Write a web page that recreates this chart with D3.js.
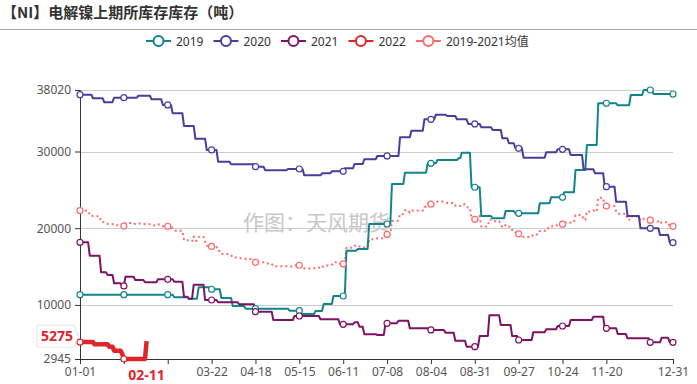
<!DOCTYPE html>
<html>
<head>
<meta charset="utf-8">
<script src="https://cdn.jsdelivr.net/npm/d3@7"></script>
<style>
  body { margin: 0; background: #fff; }
  svg { font-family: "Noto Sans", "Noto Sans CJK SC", sans-serif; }
</style>
</head>
<body>
<div id="chart"></div>
<script>
// Weekly SHFE nickel stock, [date, tonnes] - value holds until the next print
const s2019 = [
  ["01-01", 11330], ["02-28", 10990], ["03-08", 10810], ["03-14", 12290], ["03-22", 12040],
  ["03-28", 10900], ["04-04", 9860], ["04-12", 9510], ["05-09", 9240], ["05-16", 8810],
  ["05-25", 9200], ["05-30", 10110], ["06-05", 11160], ["06-13", 17070], ["06-20", 17290],
  ["06-27", 20550], ["07-11", 25770], ["07-19", 27240], ["08-02", 28460], ["08-08", 28900],
  ["08-21", 29120], ["08-23", 29850], ["08-29", 25340], ["09-04", 21590], ["09-11", 21290],
  ["09-19", 22240], ["09-25", 21940], ["10-10", 23250], ["10-17", 24030], ["10-25", 24680],
  ["11-01", 27590], ["11-08", 30850], ["11-15", 36290], ["11-27", 36030], ["12-05", 37370],
  ["12-13", 38020], ["12-19", 37500]
];
const s2020 = [
  ["01-01", 37410], ["01-09", 36940], ["01-16", 36420], ["01-22", 37020], ["02-06", 37280],
  ["02-14", 36810], ["02-21", 36070], ["02-27", 35000], ["03-05", 33330], ["03-12", 31670],
  ["03-19", 30200], ["03-26", 28680], ["04-03", 28330], ["04-18", 28020], ["04-24", 27550],
  ["05-08", 27720], ["05-18", 26900], ["05-29", 27160], ["06-04", 27420], ["06-12", 27810],
  ["06-18", 28370], ["06-24", 28990], ["07-02", 29420], ["07-16", 31860], ["07-23", 32720],
  ["07-31", 34200], ["08-07", 34800], ["08-14", 34630], ["08-20", 34200], ["08-27", 33590],
  ["09-04", 33160], ["09-11", 32810], ["09-17", 31720], ["09-21", 31070], ["09-25", 30420],
  ["09-30", 29200], ["10-14", 29900], ["10-21", 30290], ["10-29", 29550], ["11-06", 27680],
  ["11-13", 27160], ["11-19", 25410], ["11-26", 23460], ["12-03", 21590], ["12-11", 19990],
  ["12-23", 19120], ["12-29", 18110]
];
const s2021 = [
  ["01-01", 18160], ["01-07", 16420], ["01-14", 14250], ["01-18", 13900], ["01-22", 12820],
  ["01-27", 12470], ["01-29", 13680], ["02-04", 13250], ["02-10", 12950], ["02-18", 13340],
  ["02-28", 13030], ["03-05", 11070], ["03-08", 10810], ["03-11", 12640], ["03-18", 10640],
  ["03-26", 10340], ["04-08", 10080], ["04-18", 9110], ["04-29", 8030], ["05-12", 8550],
  ["05-28", 8120], ["06-09", 7470], ["06-18", 7730], ["06-21", 7160], ["06-24", 6170],
  ["07-02", 6080], ["07-07", 7600], ["07-15", 7940], ["07-22", 6950], ["08-03", 6730],
  ["08-13", 6370], ["08-19", 5330], ["08-26", 4550], ["09-03", 5940], ["09-09", 8640],
  ["09-16", 7380], ["09-23", 5940], ["09-27", 5420], ["10-06", 6430], ["10-14", 6820],
  ["10-21", 7250], ["10-29", 8030], ["11-12", 8460], ["11-19", 6950], ["11-27", 6200],
  ["12-03", 5640], ["12-17", 5120], ["12-24", 5720], ["12-29", 5120]
];
const s2022 = [
  ["01-01", 5150], ["01-10", 4860], ["01-19", 4550], ["01-22", 4030], ["01-27", 3600],
  ["01-28", 2945], ["02-11", 5275]
];

const seriesNames = ["2019", "2020", "2021", "2022", "2019-2021均值"];
const colors = ["#12858a", "#4a3c9c", "#7e1366", "#e0242a", "#ff6b6b"];
const title = "【NI】电解镍上期所库存库存（吨）";
const watermark = "作图：天风期货";
const yTickValues = [10000, 20000, 30000];
const tickStep = 27;

// category axis: every day of a (leap) year
const dayFmt = d3.timeFormat("%m-%d");
const days = d3.timeDays(new Date(2020, 0, 1), new Date(2021, 0, 1)).map(dayFmt);
const dayIndex = new Map(days.map((d, i) => [d, i]));
const lastIdx = days.length - 1;

// hold each weekly value until the next one
function expand(points, endDate) {
  const end = dayIndex.get(endDate);
  const out = [];
  let j = 0;
  for (let i = 0; i <= end; i++) {
    while (j + 1 < points.length && dayIndex.get(points[j + 1][0]) <= i) j++;
    out.push({ i, v: points[j][1] });
  }
  return out;
}

const d2019 = expand(s2019, "12-31");
const d2020 = expand(s2020, "12-31");
const d2021 = expand(s2021, "12-31");
const d2022 = expand(s2022, s2022[s2022.length - 1][0]);
const dAvg = d2019.map((d, k) => ({ i: d.i, v: Math.round((d.v + d2020[k].v + d2021[k].v) / 3) }));
const allSeries = [d2019, d2020, d2021, d2022, dAvg];
const last = d2022[d2022.length - 1];

const W = 697, H = 384;
const margin = { top: 90, right: 24, bottom: 25, left: 80 };

const svg = d3.select("#chart").append("svg")
  .attr("width", W).attr("height", H);

// title + rule under it
svg.append("text")
  .attr("x", 2).attr("y", 18)
  .attr("font-size", 15).attr("font-weight", "bold")
  .attr("fill", "#333")
  .style("font-family", '"Noto Sans CJK SC", sans-serif')
  .text(title);
svg.append("line")
  .attr("x1", 0).attr("x2", W).attr("y1", 29.5).attr("y2", 29.5)
  .attr("stroke", "#aaa");

// Scales
const x = d3.scaleLinear().domain([0, lastIdx]).range([margin.left, W - margin.right]);
const yExt = d3.extent(allSeries.flat(), d => d.v);
const y = d3.scaleLinear().domain(yExt).range([H - margin.bottom, margin.top]);

// grid
svg.append("g").selectAll("line")
  .data(yTickValues.concat([yExt[1]]))
  .join("line")
  .attr("x1", x(0)).attr("x2", x(lastIdx))
  .attr("y1", d => Math.round(y(d)) + 0.5).attr("y2", d => Math.round(y(d)) + 0.5)
  .attr("stroke", "#ccc");

// watermark
svg.append("text")
  .attr("x", 243).attr("y", 230)
  .attr("font-size", 21).attr("fill", "#c8c8c8")
  .style("font-family", '"Noto Sans CJK SC", sans-serif')
  .text(watermark);

// Y axis
const yAxis = svg.append("g")
  .attr("transform", `translate(${x(0)},0)`)
  .call(d3.axisLeft(y).tickValues([yExt[0]].concat(yTickValues, [yExt[1]])).tickSize(5).tickPadding(4).tickFormat(d3.format("d")));
yAxis.select(".domain").attr("stroke", "#333");
yAxis.selectAll(".tick line").attr("stroke", "#333");
yAxis.selectAll("text").attr("font-size", 12).attr("fill", "#555")
  .style("font-family", '"Noto Sans", sans-serif');

// X axis - labels sitting under the highlighted date are covered by it
const xTicks = d3.range(0, lastIdx - tickStep, tickStep).concat([lastIdx]);
const xAxis = svg.append("g")
  .attr("transform", `translate(0,${y(yExt[0])})`)
  .call(d3.axisBottom(x).tickValues(xTicks).tickSize(5).tickPadding(3)
    .tickFormat(i => Math.abs(x(i) - x(last.i)) < 40 ? "" : days[i]));
xAxis.select(".domain").attr("stroke", "#333");
xAxis.selectAll(".tick line").attr("stroke", "#333");
xAxis.selectAll("text").attr("font-size", 12).attr("fill", "#555")
  .style("font-family", '"Noto Sans", sans-serif');

// Lines
const line = d3.line().x(d => x(d.i)).y(d => y(d.v));
const widths = [2, 2, 2, 4.5, 2];
const order = [4, 0, 1, 2, 3];
order.forEach(k => {
  svg.append("path")
    .datum(allSeries[k])
    .attr("fill", "none")
    .attr("stroke", colors[k])
    .attr("stroke-width", widths[k])
    .attr("stroke-dasharray", k === 4 ? "2,3" : null)
    .attr("stroke-linejoin", "round")
    .attr("d", line);
});

// hollow markers at the label interval and last category
order.forEach(k => {
  const pts = allSeries[k].filter(d => d.i % tickStep === 0 || d.i === lastIdx);
  svg.append("g").selectAll("circle")
    .data(pts)
    .join("circle")
    .attr("cx", d => x(d.i)).attr("cy", d => y(d.v))
    .attr("r", 3)
    .attr("fill", "#fff")
    .attr("stroke", colors[k])
    .attr("stroke-width", 1.2);
});

// highlight labels for the latest 2022 print
const lx = x(last.i);
svg.append("text")
  .attr("x", lx).attr("y", y(yExt[0]) + 21)
  .attr("text-anchor", "middle")
  .attr("font-size", 14).attr("font-weight", "bold")
  .attr("fill", colors[3])
  .text(days[last.i]);

const ly = y(last.v) - 5;
svg.append("path")
  .attr("d", `M37,${ly - 11}H74L78,${ly}L74,${ly + 11}H37Z`)
  .attr("fill", "#fff").attr("stroke", "#e6e6e6");
svg.append("text")
  .attr("x", 73).attr("y", ly + 5)
  .attr("text-anchor", "end")
  .attr("font-size", 14).attr("font-weight", "bold")
  .attr("fill", colors[3])
  .text(last.v);

// Legend
const legend = svg.append("g").attr("transform", "translate(146,41)");
let lxPos = 0;
seriesNames.forEach((name, k) => {
  const g = legend.append("g").attr("transform", `translate(${lxPos},0)`);
  g.append("line").attr("x1", 0).attr("x2", 25).attr("stroke", colors[k]).attr("stroke-width", 2);
  g.append("circle").attr("cx", 12.5).attr("r", 5).attr("fill", "#fff")
    .attr("stroke", colors[k]).attr("stroke-width", 2);
  const t = g.append("text").attr("x", 30).attr("y", 4.5)
    .attr("font-size", 12).attr("fill", "#333")
    .style("font-family", '"Noto Sans", "Noto Sans CJK SC", sans-serif')
    .text(name);
  lxPos += 30 + t.node().getComputedTextLength() + 10;
});
</script>
</body>
</html>
